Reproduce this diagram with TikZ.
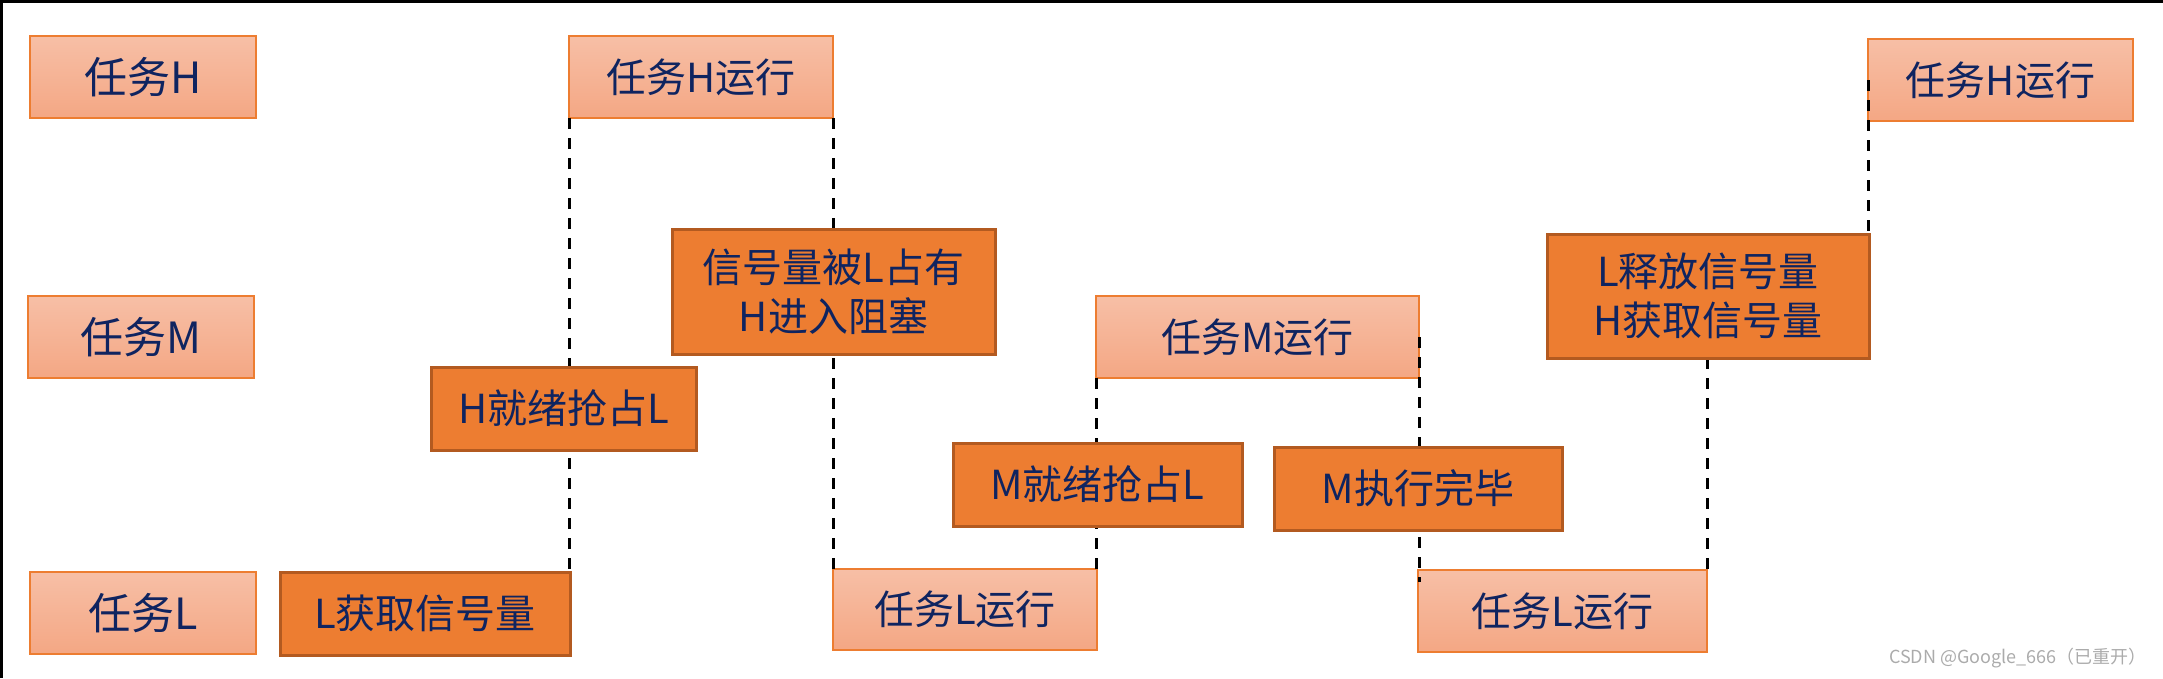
\documentclass[tikz,border=0pt]{standalone}
\usepackage{fontspec}
\setmainfont{Noto Sans CJK SC}
\newfontfamily\cjk{Noto Sans CJK SC}
\definecolor{lighttop}{HTML}{F7BFA6}
\definecolor{lightbot}{HTML}{F4A784}
\definecolor{orangeline}{HTML}{ED7D31}
\definecolor{darkfill}{HTML}{ED7D31}
\definecolor{darkline}{HTML}{B35A20}
\definecolor{navy}{HTML}{0F2460}
\tikzset{
  lightbox/.style={draw=orangeline, line width=2.5pt, top color=lighttop, bottom color=lightbot,
    inner sep=0pt, outer sep=0pt, text=navy, font=\cjk\fontsize{40}{49}\selectfont, align=center},
  darkbox/.style={draw=darkline, line width=3pt, fill=darkfill,
    inner sep=0pt, outer sep=0pt, text=navy, font=\cjk\fontsize{40}{49}\selectfont, align=center},
  tasklabel/.style={lightbox, font=\cjk\fontsize{43}{50}\selectfont},
  dashline/.style={draw=black, line width=3pt, dash pattern=on 11pt off 9pt},
  frameline/.style={draw=black, line width=3pt},
  watermark/.style={text=black!33, font=\cjk\fontsize{18}{22}\selectfont, inner sep=0pt}
}
\begin{document}
\begin{tikzpicture}[x=1pt,y=-1pt]
\useasboundingbox (0,0) rectangle (2163,678);
% frame
\draw[frameline] (1.5,678) -- (1.5,1.5) -- (2163,1.5);
% light boxes
\node[tasklabel, minimum width=226pt, minimum height=82pt] (tH) at (143,77) {任务H};
\node[tasklabel, minimum width=226pt, minimum height=82pt] (tM) at (141,337) {任务M};
\node[tasklabel, minimum width=226pt, minimum height=82pt] (tL) at (143,613) {任务L};
\node[lightbox, minimum width=264pt, minimum height=82pt] (Hrun) at (701,77) {任务H运行};
\node[lightbox, minimum width=264pt, minimum height=81pt] (Lrun1) at (965,609.5) {任务L运行};
\node[lightbox, minimum width=323pt, minimum height=82pt] (Mrun) at (1257.5,337) {任务M运行};
\node[lightbox, minimum width=289pt, minimum height=82pt] (Lrun2) at (1562.5,611) {任务L运行};
\node[lightbox, minimum width=265pt, minimum height=82pt] (Hrun2) at (2000.5,80) {任务H运行};
% dashed connectors
\draw[dashline] (Hrun.south west) -- (Hrun.south west |- 0,572) coordinate (d1end);
\draw[dashline] (Hrun.south east) -- (Hrun.south east |- Lrun1.north);
\draw[dashline] (Mrun.south west) -- (Mrun.south west |- Lrun1.north);
\draw[dashline] (Mrun.east) -- (Mrun.east |- 0,582) coordinate (d4end);
\draw[dashline] (1707,358) coordinate (d5start) -- (d5start |- Lrun2.north);
\draw[dashline] (Hrun2.west) -- (Hrun2.west |- 0,234) coordinate (d6end);
% dark boxes
\node[darkbox, minimum width=290pt, minimum height=83pt] (Lget) at (425,613.5) {L获取信号量};
\node[darkbox, minimum width=265pt, minimum height=83pt] (Hready) at (563.5,408.5) {H就绪抢占L};
\node[darkbox, minimum width=323pt, minimum height=125pt] (Sem) at (833.5,291.5) {信号量被L占有\\H进入阻塞};
\node[darkbox, minimum width=289pt, minimum height=83pt] (Mready) at (1097.5,484.5) {M就绪抢占L};
\node[darkbox, minimum width=288pt, minimum height=83pt] (Mdone) at (1418,488.5) {M执行完毕};
\node[darkbox, minimum width=322pt, minimum height=124pt] (Lrel) at (1708,296) {L释放信号量\\H获取信号量};
% watermark
\node[watermark, anchor=east] (wm) at (2147,658) {CSDN @Google\_666（已重开）};
\end{tikzpicture}
\end{document}
